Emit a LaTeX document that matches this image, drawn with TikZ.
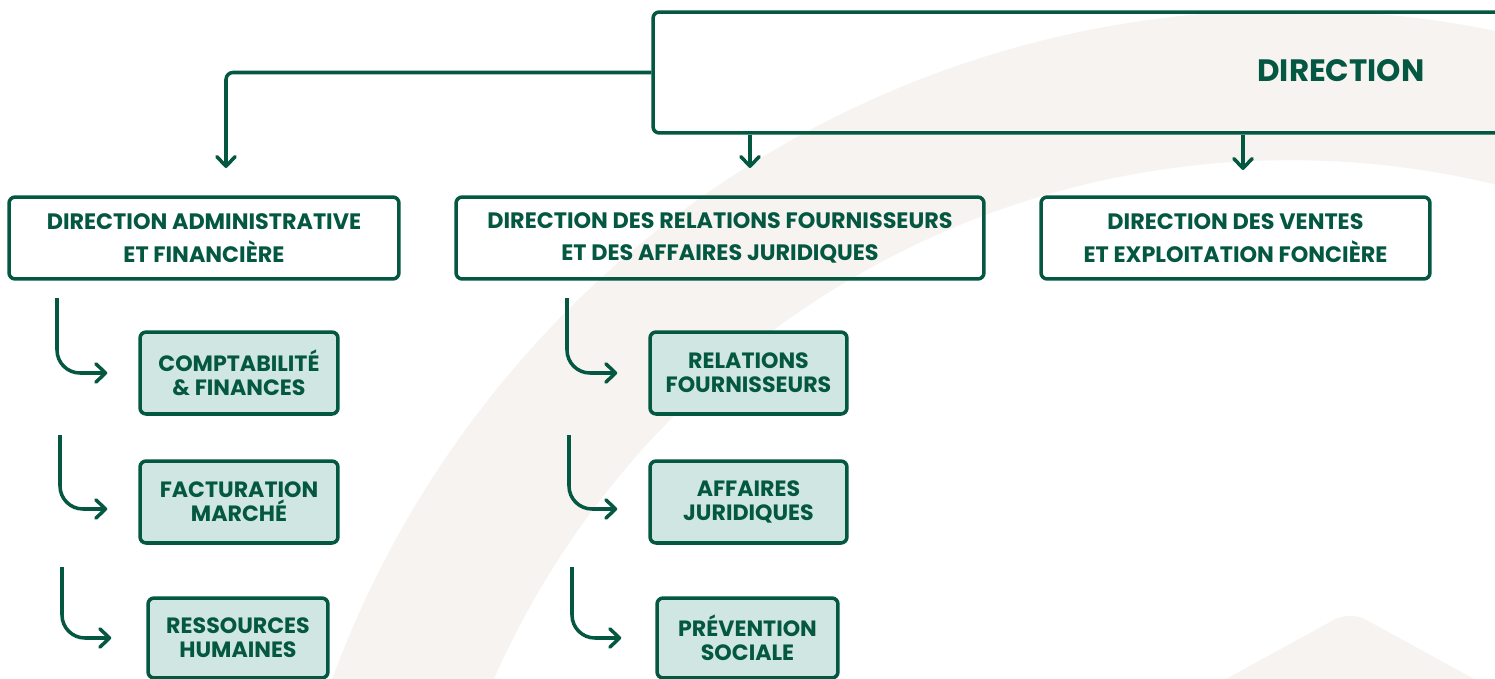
\documentclass[tikz,border=0pt]{standalone}
\usepackage{fontspec}
\setmainfont{Poppins}
\usetikzlibrary{arrows.meta}

\definecolor{deepgreen}{HTML}{045740}
\definecolor{mint}{HTML}{CFE6E2}
\definecolor{sand}{HTML}{F6F3F0}

\tikzset{
  headbox/.style={draw=deepgreen, line width=2pt, rounded corners=3.5pt,
    align=center, text=deepgreen, inner sep=0pt,
    font=\bfseries\fontsize{12.7}{18.6}\selectfont},
  unitbox/.style={draw=deepgreen, fill=mint, line width=2pt, rounded corners=3.5pt,
    align=center, text=deepgreen, inner sep=0pt,
    font=\bfseries\fontsize{12.6}{13.6}\selectfont},
  link/.style={deepgreen, line width=2pt,
    -{Straight Barb[length=5.5pt,width=10.5pt,round]}},
  hooklink/.style={link, rounded corners=0.46cm},
}

\begin{document}
\begin{tikzpicture}[x=0.02cm, y=-0.02cm]
  \useasboundingbox (0,0) rectangle (1495,679);
  \clip (0,0) rectangle (1495,679);

  % watermark: wide arc band and rounded peak
  \fill[sand, even odd rule] (1290,1030) circle[radius=20.4cm]
                             (1290,1030) circle[radius=17.4cm];
  \fill[sand, rounded corners=0.35cm] (1100,748) -- (1350,611) -- (1600,748) -- cycle;

  % top level
  \node[headbox, minimum width=17.34cm, minimum height=2.42cm] (dir) at (1086.5,72.5) {};
  \node[text=deepgreen, font=\bfseries\fontsize{17.6}{20}\selectfont] (dirlabel) at (1341,71) {DIRECTION};

  % directions
  \node[headbox, minimum width=7.8cm, minimum height=1.64cm] (daf) at (204,238)
    {DIRECTION ADMINISTRATIVE\\ET FINANCIÈRE};
  \node[headbox, minimum width=10.56cm, minimum height=1.64cm] (drf) at (720,238)
    {DIRECTION DES RELATIONS FOURNISSEURS\\ET DES AFFAIRES JURIDIQUES};
  \node[headbox, minimum width=7.78cm, minimum height=1.64cm] (dve) at (1235.5,238)
    {DIRECTION DES VENTES\\ET EXPLOITATION FONCIÈRE};

  % services
  \node[unitbox, minimum width=3.96cm, minimum height=1.64cm] (c1) at (239,373) {COMPTABILITÉ\\\& FINANCES};
  \node[unitbox, minimum width=3.96cm, minimum height=1.64cm] (c2) at (239,502) {FACTURATION\\MARCHÉ};
  \node[unitbox, minimum width=3.6cm, minimum height=1.6cm] (c3) at (238,638) {RESSOURCES\\HUMAINES};
  \node[unitbox, minimum width=3.94cm, minimum height=1.64cm] (m1) at (748.5,373) {RELATIONS\\FOURNISSEURS};
  \node[unitbox, minimum width=3.94cm, minimum height=1.64cm] (m2) at (748.5,502) {AFFAIRES\\JURIDIQUES};
  \node[unitbox, minimum width=3.62cm, minimum height=1.6cm] (m3) at (747.5,638) {PRÉVENTION\\SOCIALE};

  % arrow ends and starts
  \coordinate (a1) at (226,168);
  \coordinate (a2) at (750,168);
  \coordinate (a3) at (1243,170);
  \coordinate (s1) at (57,298);
  \coordinate (s2) at (60,435);
  \coordinate (s3) at (62,567);
  \coordinate (t1) at (567,298);
  \coordinate (t2) at (569,435);
  \coordinate (t3) at (572,567);

  % connectors from the top box
  \draw[link, rounded corners=4pt] (dir.west) -| (a1);
  \draw[link] (a2 |- dir.south) -- (a2);
  \draw[link] (a3 |- dir.south) -- (a3);

  % connectors to the services
  \draw[hooklink, shorten >=0.62cm] (s1) |- (c1.west);
  \draw[hooklink, shorten >=0.62cm] (s2) |- ([yshift=-0.14cm]c2.west);
  \draw[hooklink, shorten >=0.7cm] (s3) |- (c3.west);
  \draw[hooklink, shorten >=0.62cm] (t1) |- (m1.west);
  \draw[hooklink, shorten >=0.62cm] (t2) |- ([yshift=-0.14cm]m2.west);
  \draw[hooklink, shorten >=0.68cm] (t3) |- (m3.west);
\end{tikzpicture}
\end{document}
